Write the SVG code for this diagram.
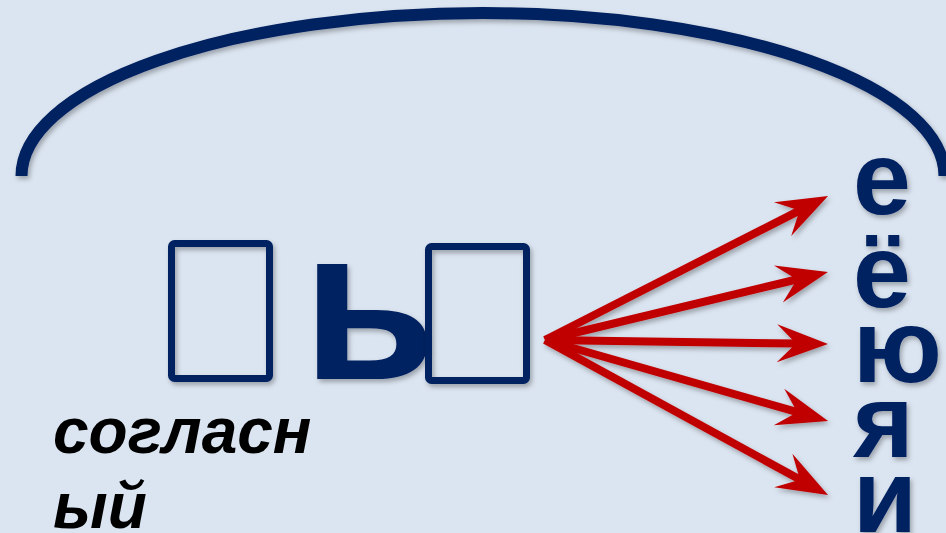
<svg xmlns="http://www.w3.org/2000/svg" width="946" height="533" viewBox="0 0 946 533">
  <defs>
    <filter id="sh" x="-10%" y="-10%" width="130%" height="140%">
      <feDropShadow dx="2" dy="3" stdDeviation="2.5" flood-color="#000" flood-opacity="0.3"/>
    </filter>
    <marker id="head" markerUnits="userSpaceOnUse" markerWidth="60" markerHeight="40" refX="0" refY="0" viewBox="-22 -20 54 40" orient="auto" overflow="visible">
      <path d="M30,0 L-21,-19 L-2,0 L-21,19 Z" fill="#c00000"/>
    </marker>
  </defs>
  <style>
    .navy{fill:#002060;font-family:"Liberation Sans",Arial,sans-serif;font-weight:bold}
    .box{fill:none;stroke:#002060;stroke-width:7}
    .arr{stroke:#c00000;stroke-width:8;fill:none;marker-end:url(#head)}
    .lbl{fill:#000;font-family:"Liberation Sans",Arial,sans-serif;font-weight:bold;font-style:italic;font-size:64px}
  </style>
  <rect width="946" height="533" fill="#dbe5f1"/>
  <g id="arc" filter="url(#sh)">
    <path d="M21.5,176 A461.5,163 0 0 1 944.5,176" fill="none" stroke="#002060" stroke-width="12"/>
  </g>
  <g id="box-left" filter="url(#sh)">
    <rect class="box" x="171.5" y="243.5" width="98" height="135" rx="3"/>
  </g>
  <g id="soft-sign" filter="url(#sh)">
    <text class="navy" x="302" y="379" font-size="218">ь</text>
  </g>
  <g id="box-right" filter="url(#sh)">
    <rect class="box" x="428.5" y="246.5" width="98" height="134" rx="3"/>
  </g>
  <g id="connectors" filter="url(#sh)">
    <line class="arr" x1="545" y1="340" x2="801.3" y2="209.6"/>
    <line class="arr" x1="545" y1="340" x2="798.8" y2="279.0"/>
    <line class="arr" x1="545" y1="340" x2="798" y2="343.6"/>
    <line class="arr" x1="545" y1="340" x2="799.2" y2="412.7"/>
    <line class="arr" x1="545" y1="340" x2="801.7" y2="480.6"/>
  </g>
  <g id="vowels" filter="url(#sh)">
    <text class="navy" x="853" y="214" font-size="104">е</text>
    <text class="navy" x="853" y="307" font-size="104">ё</text>
    <text class="navy" x="853" y="382" font-size="104">ю</text>
    <text class="navy" x="853" y="457" font-size="104">я</text>
    <text class="navy" x="853" y="532" font-size="104">и</text>
  </g>
  <g id="label">
    <text class="lbl" x="53" y="453">согласн</text>
    <text class="lbl" x="53" y="528">ый</text>
  </g>
</svg>
